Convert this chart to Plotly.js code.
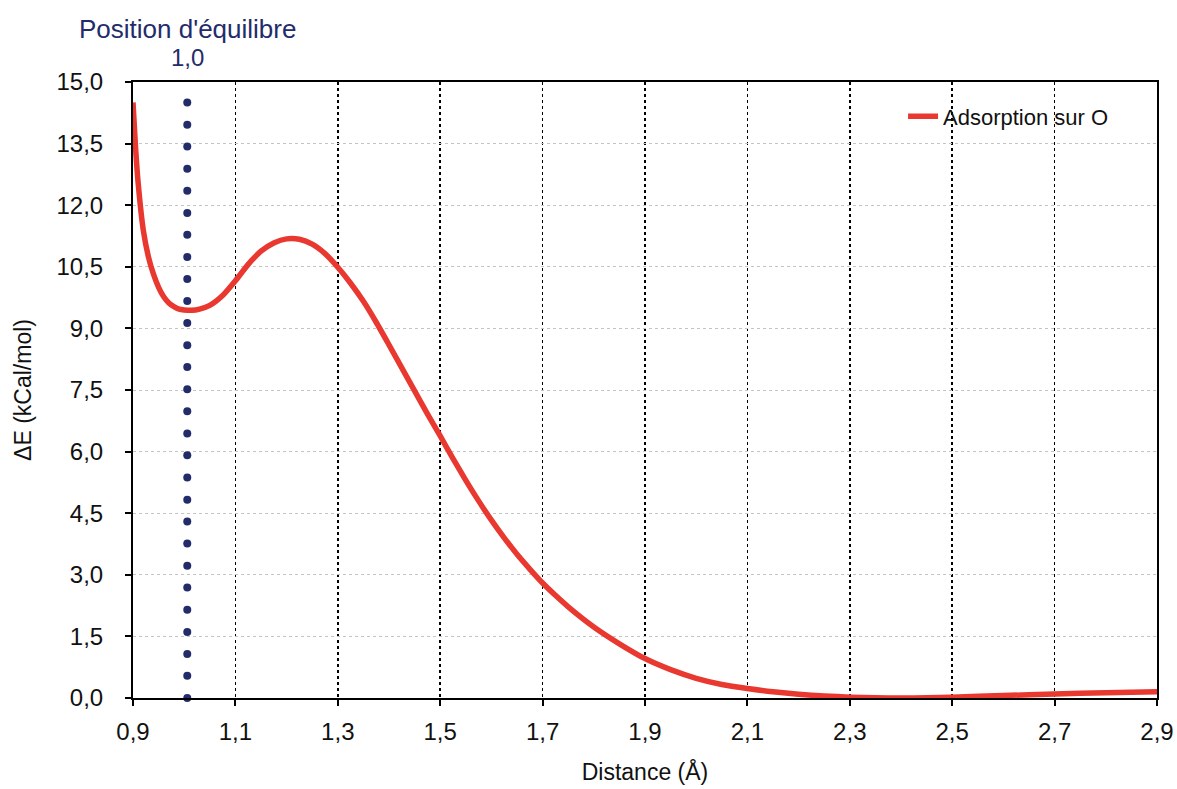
<!DOCTYPE html>
<html>
<head>
<meta charset="utf-8">
<script src="https://cdn.plot.ly/plotly-3.0.1.min.js"></script>
<style>html,body{margin:0;padding:0;background:#fff;}</style>
</head>
<body>
<div id="chart" style="width:1177px;height:789px;"></div>
<script>
// Curve: Adsorption sur O
const distance = [0.9, 0.905, 0.91, 0.92, 0.93, 0.94, 0.95, 0.96, 0.97, 0.98, 0.99, 1.0, 1.015, 1.03, 1.05, 1.075, 1.1, 1.125, 1.15, 1.175, 1.2, 1.225, 1.25, 1.275, 1.3, 1.325, 1.35, 1.375, 1.4, 1.425, 1.45, 1.475, 1.5, 1.525, 1.55, 1.575, 1.6, 1.625, 1.65, 1.675, 1.7, 1.725, 1.75, 1.8, 1.85, 1.9, 1.95, 2.0, 2.05, 2.1, 2.15, 2.2, 2.25, 2.3, 2.35, 2.4, 2.45, 2.5, 2.6, 2.7, 2.8, 2.9];
const energy = [14.5, 13.4, 12.55, 11.4, 10.75, 10.32, 10.0, 9.77, 9.62, 9.53, 9.47, 9.45, 9.44, 9.47, 9.56, 9.8, 10.16, 10.56, 10.88, 11.08, 11.18, 11.17, 11.05, 10.82, 10.49, 10.1, 9.66, 9.15, 8.6, 8.04, 7.48, 6.92, 6.38, 5.83, 5.3, 4.8, 4.33, 3.9, 3.5, 3.14, 2.8, 2.5, 2.22, 1.73, 1.32, 0.96, 0.69, 0.48, 0.33, 0.23, 0.15, 0.09, 0.05, 0.02, 0.005, 0.0, 0.005, 0.02, 0.06, 0.1, 0.13, 0.15];

// Equilibrium position marker (dotted vertical)
const eqX = 1.006;
const eqDotsY = [0, 0.54, 1.07, 1.61, 2.15, 2.69, 3.22, 3.76, 4.30, 4.83, 5.37, 5.91, 6.44, 6.98, 7.52, 8.06, 8.59, 9.13, 9.67, 10.20, 10.74, 11.28, 11.81, 12.35, 12.89, 13.43, 13.96, 14.50];
const eqTitle = "Position d'équilibre";
const eqValue = "1,0";

const seriesName = "Adsorption sur O";
const xTitle = "Distance (Å)";
const yTitle = "ΔE (kCal/mol)";

const font = "Liberation Sans, Arial, Helvetica, sans-serif";
const navy = "#232C6A";

const traces = [
  {
    x: eqDotsY.map(() => eqX),
    y: eqDotsY,
    mode: "markers",
    marker: {color: navy, size: 8},
    showlegend: false,
    hoverinfo: "skip",
    cliponaxis: false
  },
  {
    x: distance,
    y: energy,
    mode: "lines",
    name: seriesName,
    line: {color: "#E8382F", width: 5.5, shape: "spline", smoothing: 0.6},
    hoverinfo: "skip"
  }
];

const layout = {
  width: 1177,
  height: 789,
  margin: {l: 133, r: 20, t: 82, b: 91},
  paper_bgcolor: "#fff",
  plot_bgcolor: "#fff",
  font: {family: font, size: 24, color: "#111"},
  separators: ",.",
  showlegend: true,
  legend: {
    x: 0.752, xanchor: "left", y: 0.978, yanchor: "top",
    bgcolor: "rgba(0,0,0,0)",
    font: {family: font, size: 22, color: "#111"}
  },
  xaxis: {
    range: [0.9, 2.9],
    tick0: 0.9, dtick: 0.2,
    tickformat: ".1f",
    showline: true, mirror: true, linecolor: "#000", linewidth: 2,
    ticks: "outside", ticklen: 6, tickwidth: 2, tickcolor: "#000",
    ticklabelstandoff: 5,
    showgrid: true, gridcolor: "#000", griddash: "dot", gridwidth: 1.5,
    zeroline: false,
    tickfont: {family: font, size: 24, color: "#111"},
    title: {text: xTitle, font: {family: font, size: 23, color: "#111"}, standoff: 20}
  },
  yaxis: {
    range: [0, 15],
    tick0: 0, dtick: 1.5,
    tickformat: ".1f",
    showline: true, mirror: true, linecolor: "#000", linewidth: 2,
    ticks: "outside", ticklen: 6, tickwidth: 2, tickcolor: "#000",
    ticklabelstandoff: 17,
    showgrid: true, gridcolor: "#c4c4c4", griddash: "dot", gridwidth: 1,
    zeroline: false,
    tickfont: {family: font, size: 24, color: "#111"},
    title: {text: yTitle, font: {family: font, size: 23, color: "#111"}, standoff: 18}
  },
  annotations: [
    {
      xref: "x", yref: "paper",
      x: eqX, y: 1, xanchor: "center", yanchor: "middle",
      yshift: 53,
      text: eqTitle, showarrow: false,
      font: {family: font, size: 26, color: navy}
    },
    {
      xref: "x", yref: "paper",
      x: eqX, y: 1, xanchor: "center", yanchor: "middle",
      yshift: 25,
      text: eqValue, showarrow: false,
      font: {family: font, size: 24, color: navy}
    }
  ]
};

Plotly.newPlot("chart", traces, layout, {displayModeBar: false, staticPlot: true});
</script>
</body>
</html>
